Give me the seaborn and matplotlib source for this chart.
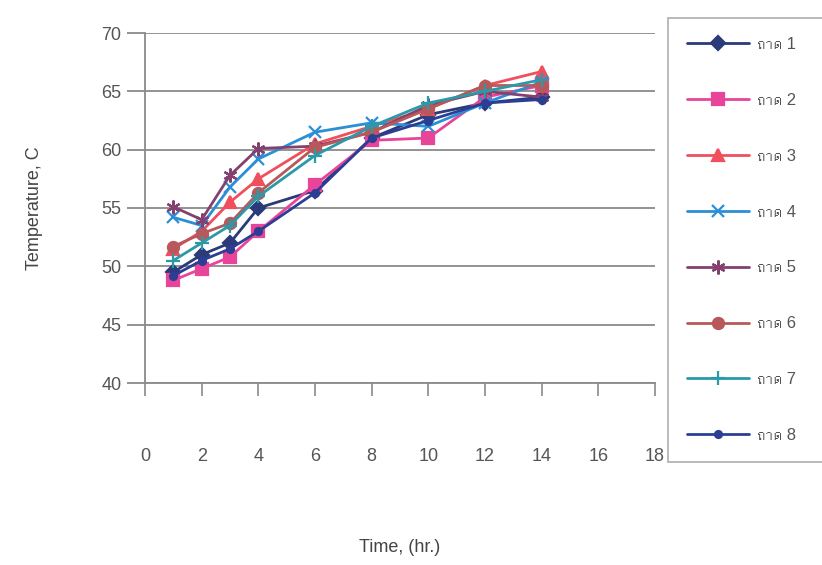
import numpy as np
import pandas as pd
import matplotlib
matplotlib.use("Agg")
import matplotlib.pyplot as plt
from matplotlib import font_manager
from matplotlib.ft2font import FT2Font
import seaborn as sns

# Measurement times (hours) and tray temperatures (deg C)
hours = [1, 2, 3, 4, 6, 8, 10, 12, 14]
tray_names = ["ถาด 1", "ถาด 2", "ถาด 3", "ถาด 4", "ถาด 5", "ถาด 6", "ถาด 7", "ถาด 8"]
tray1 = [49.5, 51.0, 52.0, 55.0, 56.5, 61.0, 63.0, 64.0, 64.5]
tray2 = [48.8, 49.8, 50.8, 53.0, 57.0, 60.8, 61.0, 64.5, 65.5]
tray3 = [51.5, 53.0, 55.5, 57.5, 60.5, 62.0, 63.5, 65.5, 66.7]
tray4 = [54.2, 53.5, 56.8, 59.2, 61.5, 62.3, 62.0, 64.0, 65.8]
tray5 = [55.1, 54.0, 57.8, 60.1, 60.3, 61.5, 63.8, 65.0, 64.5]
tray6 = [51.7, 52.8, 53.7, 56.3, 60.2, 61.5, 63.5, 65.5, 65.5]
tray7 = [50.5, 52.0, 53.5, 56.0, 59.5, 62.0, 64.0, 65.0, 66.0]
tray8 = [49.2, 50.5, 51.5, 53.0, 56.3, 61.0, 62.5, 64.0, 64.3]
series = [tray1, tray2, tray3, tray4, tray5, tray6, tray7, tray8]

colors = ["#2b3a78", "#e8449a", "#f0505e", "#2a8fd6", "#84406e", "#b8585a", "#2a9aa8", "#2c3e94"]
markers = ["D", "s", "^", "x", (6, 2, 0), "o", "+", "o"]
msizes = [7, 8, 8, 9, 10, 8, 10, 5]


def font_with(char):
    """Return the name of an installed font that covers the given character."""
    for path in font_manager.findSystemFonts():
        try:
            if ord(char) in FT2Font(path).get_charmap():
                return font_manager.FontProperties(fname=path).get_name()
        except Exception:
            continue
    return None


sns.set_theme(style="white")
thai = font_with("ถ")
families = ["Liberation Sans"] + ([thai] if thai else []) + ["DejaVu Sans"]
plt.rcParams["font.family"] = families

df = pd.DataFrame({
    "hour": np.tile(hours, len(series)),
    "temp": np.concatenate(series),
    "tray": np.repeat(tray_names, len(hours)),
})

fig = plt.figure(figsize=(8.22, 5.65), dpi=100)
ax = fig.add_axes([145 / 822, 1 - 383 / 565, 510 / 822, 350 / 565])

for name, col, mk, ms in zip(tray_names, colors, markers, msizes):
    sub = df[df["tray"] == name]
    sns.lineplot(data=sub, x="hour", y="temp", ax=ax, color=col, marker=mk,
                 markersize=ms, markeredgecolor=col, markeredgewidth=1.6,
                 linewidth=2.0, label=name, sort=False)

ax.set_xlim(0, 18)
ax.set_ylim(40, 70)
ax.set_xticks(range(0, 19, 2))
ax.set_yticks(range(40, 71, 5))
ax.yaxis.grid(True, color="#8a8a8a", linewidth=1.3)
ax.xaxis.grid(False)
ax.set_axisbelow(True)
for side in ["top", "right"]:
    ax.spines[side].set_visible(False)
for side in ["left", "bottom"]:
    ax.spines[side].set_color("#8a8a8a")
    ax.spines[side].set_linewidth(1.3)
ax.tick_params(axis="x", direction="out", length=9, width=1.2, color="#8a8a8a",
               pad=38, labelsize=13, labelcolor="#555555", bottom=True)
ax.tick_params(axis="y", direction="out", length=13, width=1.3, color="#8a8a8a",
               pad=4, labelsize=13, labelcolor="#555555", left=True)
ax.set_xlabel("Time, (hr.)", fontsize=13, color="#444444")
ax.set_ylabel("Temperature, C", fontsize=13, color="#444444")
ax.xaxis.set_label_coords(0.5, -0.445)
ax.yaxis.set_label_coords(-0.20, 0.5)

# Legend box runs off the right edge of the figure
leg = ax.legend(loc="upper left",
                bbox_to_anchor=(668 / 822, 1 - 462 / 565, 200 / 822, 444 / 565),
                bbox_transform=fig.transFigure, mode="expand", frameon=True,
                fontsize=12, handlelength=3.7, handletextpad=0.5,
                labelspacing=2.45, borderpad=1.15, borderaxespad=0,
                fancybox=False, shadow=False)
leg.get_frame().set_edgecolor("#9a9a9a")
leg.get_frame().set_linewidth(1.2)
for t in leg.get_texts():
    t.set_color("#555555")

fig.savefig("out.png", dpi=100, facecolor="white")
